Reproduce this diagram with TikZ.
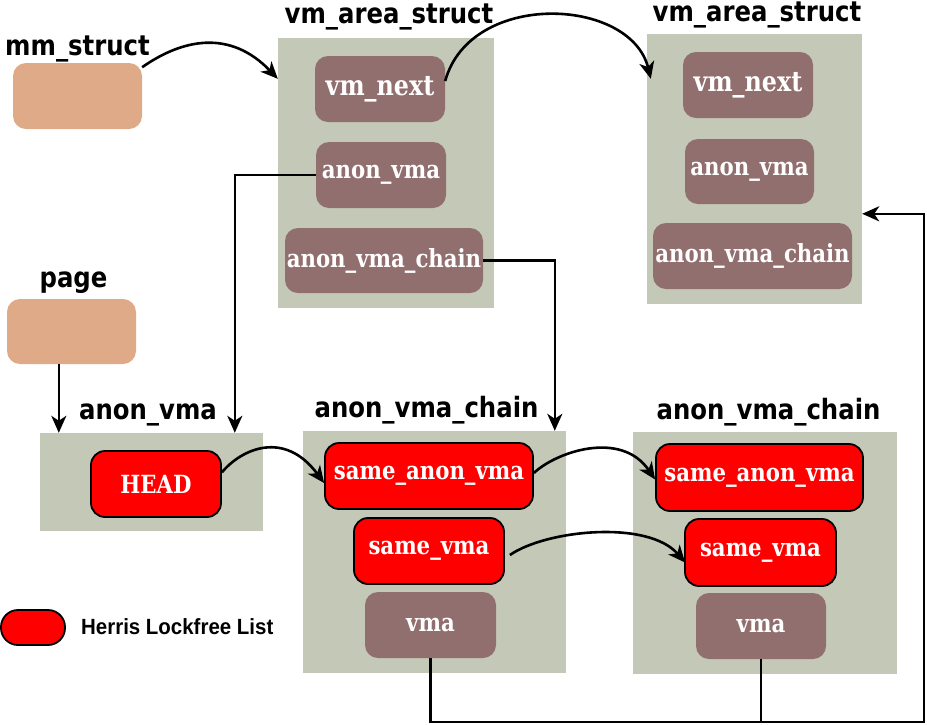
\documentclass[tikz,border=0pt]{standalone}
\usepackage{fontspec}
\usetikzlibrary{arrows.meta,calc}
\newfontfamily\titlefont{DejaVu Sans}[FakeStretch=0.87]
\newfontfamily\fieldfont{DejaVu Serif}[FakeStretch=0.85]
\newfontfamily\legfont{Liberation Sans}[FakeStretch=0.93]
\definecolor{panelc}{RGB}{196,200,183}
\definecolor{fieldc}{RGB}{145,111,110}
\definecolor{tanc}{RGB}{222,170,135}
\definecolor{redc}{RGB}{255,0,0}
\tikzset{
  panel/.style={rectangle, fill=panelc, inner sep=0pt},
  field/.style={rectangle, fill=fieldc, rounded corners=13pt, inner sep=0pt, text=white,
    font=\fieldfont\bfseries\fontsize{25}{28}\selectfont},
  bigfield/.style={field, font=\fieldfont\bfseries\fontsize{28}{32}\selectfont},
  rbox/.style={rectangle, fill=redc, draw=black, line width=1.8pt, rounded corners=14pt, inner sep=0pt, text=white,
    font=\fieldfont\bfseries\fontsize{25}{28}\selectfont},
  tanbox/.style={rectangle, fill=tanc, rounded corners=13pt, inner sep=0pt},
  title/.style={anchor=base, inner sep=0pt, font=\titlefont\bfseries\fontsize{28}{32}\selectfont},
  conn/.style={draw=black, line width=2.6pt, -{Stealth[length=17pt,width=15pt,inset=5pt]}},
  plain/.style={draw=black, line width=2.6pt}
}
\begin{document}
\begin{tikzpicture}[x=1pt,y=-1pt]
\useasboundingbox (0,0) rectangle (927,724);
% panels
\node[panel, minimum width=216, minimum height=270] (vmA) at (386,173) {};
\node[panel, minimum width=215, minimum height=270] (vmB) at (754.5,169) {};
\node[panel, minimum width=223, minimum height=98] (avP) at (151.5,482) {};
\node[panel, minimum width=263, minimum height=242] (acA) at (434.5,552) {};
\node[panel, minimum width=264, minimum height=242] (acB) at (765,553) {};
% titles
\node[title] (tmm) at (77.5,55) {mm\_struct};
\node[title] (tvmA) at (389,23) {vm\_area\_struct};
\node[title] (tvmB) at (757,21) {vm\_area\_struct};
\node[title] (tpage) at (73.5,287) {page};
\node[title] (tav) at (148,419) {anon\_vma};
\node[title] (tacA) at (426.5,417) {anon\_vma\_chain};
\node[title] (tacB) at (768.5,419) {anon\_vma\_chain};
% tan boxes
\node[tanbox, minimum width=129, minimum height=66] (mm) at (77.5,96) {};
\node[tanbox, minimum width=129, minimum height=65] (page) at (71.5,331.5) {};
% vm_area_struct fields
\node[bigfield, minimum width=130, minimum height=66] (vmAnext) at (380,89) {vm\_next};
\node[field, minimum width=130, minimum height=66] (vmAanon) at (381,175) {anon\_vma};
\node[field, minimum width=198, minimum height=65] (vmAchain) at (384,260.5) {anon\_vma\_chain};
\node[bigfield, minimum width=130, minimum height=66] (vmBnext) at (748,85) {vm\_next};
\node[field, minimum width=129, minimum height=65] (vmBanon) at (749.5,171.5) {anon\_vma};
\node[field, minimum width=199, minimum height=66] (vmBchain) at (752.5,256) {anon\_vma\_chain};
% anon_vma
\node[rbox, minimum width=130, minimum height=66] (head) at (156,484) {HEAD};
% anon_vma_chain A
\node[rbox, minimum width=208, minimum height=66] (savA) at (429,476) {same\_anon\_vma};
\node[rbox, minimum width=150, minimum height=66] (svA) at (429,551) {same\_vma};
\node[field, minimum width=131, minimum height=66] (vmaA) at (430.5,625) {vma};
% anon_vma_chain B
\node[rbox, minimum width=207, minimum height=67] (savB) at (759.5,477.5) {same\_anon\_vma};
\node[rbox, minimum width=151, minimum height=67] (svB) at (760.5,552.5) {same\_vma};
\node[field, minimum width=130, minimum height=66] (vmaB) at (761,626) {vma};
% legend
\node[rbox, minimum width=64, minimum height=35, rounded corners=17pt] (leg) at (33,627.5) {};
\node[anchor=base west, inner sep=0pt, font=\legfont\bfseries\fontsize{22}{26}\selectfont] (legtxt) at (81,634) {Herris Lockfree List};
% connectors
\draw[conn] (mm.24) .. controls +(40,-28) and +(-48,-50) .. ($(vmA.north west)+(0,41)$);
\draw[conn] (vmAnext.7) .. controls +(25,-91) and +(-20,-82) .. ($(vmB.north west)+(4,45)$);
\draw[conn] (vmAanon.west) -| ($(avP.north west)+(195,0)$);
\draw[conn] (vmAchain.east) -| ($(acA.north west)+(252,0)$);
\draw[conn] ($(page.south west)+(52,0)$) -- ($(avP.north west)+(19,0)$);
\draw[conn] (head.10) .. controls +(19,-23) and +(-40,-54) .. ($(savA.west)+(0,7)$);
\draw[conn] ($(savA.east)+(0,-3)$) .. controls +(22,-21) and +(-34,-50) .. ($(savB.west)+(0,2)$);
\draw[conn] ($(svA.east)+(5,4)$) .. controls +(36,-25) and +(-37,-43) .. ($(svB.west)+(1,10)$);
\coordinate (rc) at (924,722);
\draw[conn] (vmaA.south) |- (rc) |- ($(vmB.north east)+(0,180)$);
\draw[plain] (vmaB.south) -- (vmaB.south |- rc);
\end{tikzpicture}
\end{document}
